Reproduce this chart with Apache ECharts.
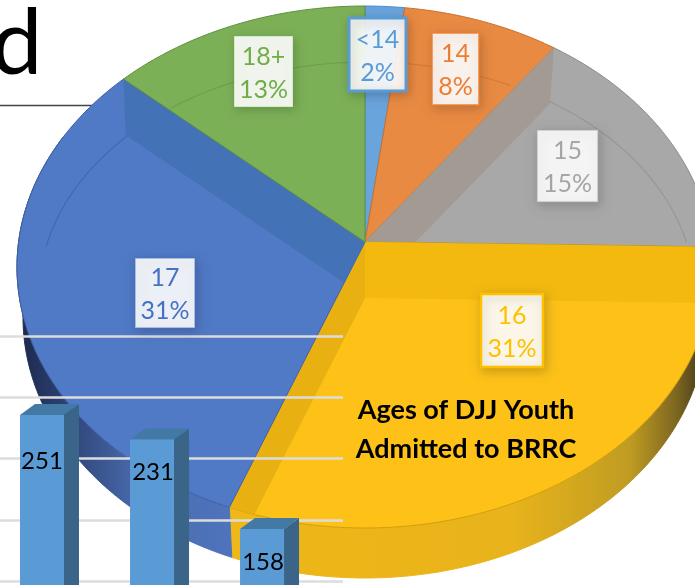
<!DOCTYPE html>
<html>
<head>
<meta charset="utf-8">
<style>html,body{margin:0;padding:0;background:#fff;overflow:hidden}#c{width:695px;height:585px}</style>
<script src="https://cdn.jsdelivr.net/npm/echarts@6/dist/echarts.min.js"></script>
</head>
<body>
<div id="c"></div>
<script>
// ---- data ----
const ageCategories = ['<14', '14', '15', '16', '17', '18+'];
const ageShares = [2, 8, 15.3, 30.5, 30.9, 13.3];
const barCategories = ['Bar 1', 'Bar 2', 'Bar 3'];
const barValues = [251, 231, 158];
const gridTicks = [50, 100, 150, 200, 250, 300];

// ---- styles and layout (not data) ----
const faceColors = ['#69a4dc', '#e98a42', '#a8a8a8', '#fdc118', '#5079c6', '#7cb057'];
const edgeColors = ['#4f8ecb', '#c9702e', '#8c8c8c', '#d29e0c', '#3f62a8', '#5f9040'];
const textColors = ['#5B9BD5', '#ED7D31', '#A5A5A5', '#FFC000', '#4472C4', '#70AD47'];
const borderColors = ['#5B9BD5', 'rgba(237,125,49,.7)', 'rgba(165,165,165,.6)', '#FFC000', 'rgba(68,114,196,.5)', 'rgba(112,173,71,.35)'];
const arcAlpha = [0.06, 0.1, 0.1, 0, 0.14, 0.1];
const labelBoxes = [[349, 18, 57, 73, 3], [432, 33, 47, 72, 2], [537, 130, 61, 72, 1.5],
                    [481, 294, 62, 73, 2.5], [135, 258, 60, 70, 1.5], [234, 36, 59, 71, 1]];
const walls = [
  {slice: 1, edge: 0, d: [-11, 56], color: '#e28339'},
  {slice: 2, edge: 0, d: [-4, 56], color: '#a39a93'},
  {slice: 3, edge: 0, d: [0, 56], color: '#f3b90f'},
  {slice: 3, edge: 1, d: [0, 56], color: '#e9b011'},
  {slice: 4, edge: 1, d: [2, 56], color: '#4472b6'}
];
const CX = 365, CY = 242, A = 258.6, B = 346.4, P = 0.0958;
const BAR_HALF = 22, DX = 15, DY = 11, FRONT_DROP = 19;
const barLabelDrop = [46, 33, 33];

const toRad = d => d * Math.PI / 180;
function rim(t) {
  const u = Math.sin(toRad(t)), v = -Math.cos(toRad(t)), k = 1 - P * v;
  return [CX + B * u / k, CY + A * v / k];
}
const total = ageShares.reduce((a, b) => a + b, 0);
let run = 0;
const spans = ageShares.map(v => { const s = run; run += v; return [s / total * 360, run / total * 360]; });
function slicePoly(i) {
  const pts = [[CX, CY]], s = spans[i][0], e = spans[i][1], n = Math.ceil(e - s);
  for (let k = 0; k <= n; k++) pts.push(rim(s + (e - s) * k / n));
  return pts;
}
function cross(a, b, p) { return (b[0]-a[0])*(p[1]-a[1]) - (b[1]-a[1])*(p[0]-a[0]); }
function signOf(poly) { let s = 0; poly.forEach((p,i)=>{const q=poly[(i+1)%poly.length]; s+=p[0]*q[1]-q[0]*p[1];}); return s>0?1:-1; }
function clip(subject, clipper) {
  const sg = signOf(clipper); let out = subject;
  for (let i = 0; i < clipper.length && out.length; i++) {
    const a = clipper[i], b = clipper[(i + 1) % clipper.length], inp = out; out = [];
    for (let j = 0; j < inp.length; j++) {
      const p = inp[j], q = inp[(j + 1) % inp.length];
      const cp = cross(a,b,p)*sg, cq = cross(a,b,q)*sg;
      if (cp >= 0) out.push(p);
      if ((cp >= 0) !== (cq >= 0)) { const r = cp/(cp-cq); out.push([p[0]+(q[0]-p[0])*r, p[1]+(q[1]-p[1])*r]); }
    }
  }
  return out;
}
function inside(poly, p) { const sg = signOf(poly); return poly.every((a,i)=>cross(a,poly[(i+1)%poly.length],p)*sg >= -0.01); }
const lowerEdge = p => [CX + (p[0]-CX)*342/348, p[1] + 50];

const yellowSide = {type:'linear',global:true,x:232,y:0,x2:700,y2:0,colorStops:[
  {offset:0,color:'#efb717'},{offset:.6,color:'#e8b31b'},{offset:.85,color:'#c09c22'},{offset:.95,color:'#7d6620'},{offset:1,color:'#4d3f1c'}]};
const blueSide = {type:'linear',global:true,x:22,y:0,x2:235,y2:0,colorStops:[
  {offset:0,color:'#1c2a4d'},{offset:.2,color:'#2c4274'},{offset:.55,color:'#4a6bae'},{offset:1,color:'#4f74bd'}]};

function sideItem(params) {
  const i = params.dataIndex;
  const range = i === 3 ? [spans[3][0], spans[3][1]] : i === 4 ? [spans[4][0], 295] : null;
  if (!range) return null;
  const top = [], bottom = [], n = Math.ceil(range[1] - range[0]);
  for (let k = 0; k <= n; k++) {
    const p = rim(range[0] + (range[1] - range[0]) * k / n);
    top.push(p); bottom.unshift(lowerEdge(p));
  }
  const fill = i === 3 ? yellowSide : blueSide;
  return {type:'polygon', shape:{points: top.concat(bottom)}, style:{fill: fill, stroke: fill, lineWidth: 1}};
}
function faceItem(params) {
  const i = params.dataIndex, poly = slicePoly(i), kids = [];
  kids.push({type:'polygon', shape:{points: poly}, style:{fill: faceColors[i], stroke: edgeColors[i], lineWidth: 1}});
  if (arcAlpha[i]) {
    const arc = [];
    for (let th = 192; th <= 360; th += 1) {
      const p = [367 + 328*Math.cos(toRad(th)), 295 + 233*Math.sin(toRad(th))];
      if (inside(poly, p)) arc.push(p);
    }
    if (arc.length > 1) kids.push({type:'polyline', shape:{points: arc}, style:{fill:null, stroke:'rgba(0,0,0,'+arcAlpha[i]+')', lineWidth:1.2}});
  }
  walls.filter(w => w.slice === i).forEach(w => {
    const R = rim(spans[i][w.edge]), c = [CX, CY];
    const q = clip([c, R, [R[0]+w.d[0], R[1]+w.d[1]], [CX+w.d[0], CY+w.d[1]]], poly);
    if (q.length > 2) kids.push({type:'polygon', shape:{points:q}, style:{fill:w.color}});
  });
  return {type:'group', children:kids};
}
function labelItem(params) {
  const i = params.dataIndex, b = labelBoxes[i];
  return {type:'group', children:[
    {type:'rect', shape:{x:b[0],y:b[1],width:b[2],height:b[3]},
     style:{fill:'rgba(255,255,255,.9)',stroke:borderColors[i],lineWidth:b[4],shadowBlur:10,shadowOffsetX:2,shadowOffsetY:3,shadowColor:'rgba(0,0,0,.2)'}},
    {type:'text', x:b[0]+b[2]/2, y:b[1]+b[3]/2+1.5,
     style:{text: ageCategories[i] + '\n' + Math.round(ageShares[i]) + '%', fill:textColors[i], font:'25px Lato', lineHeight:33, align:'center', verticalAlign:'middle'}}
  ]};
}
function barItem(params, api) {
  const i = api.value(0), v = api.value(1), c = api.coord([i, v]), base = api.coord([i, 50]);
  const L = c[0]-BAR_HALF, R = c[0]+BAR_HALF, T = c[1]+FRONT_DROP, Bt = base[1]+FRONT_DROP;
  return {type:'group', children:[
    {type:'polygon', shape:{points:[[R,T],[R+DX,T-DY],[R+DX,Bt],[R,Bt]]}, style:{fill:'#3a6488'}},
    {type:'polygon', shape:{points:[[L,T],[L+DX,T-DY],[R+DX,T-DY],[R,T]]}, style:{fill:'#437aa5'}},
    {type:'rect', shape:{x:L,y:T,width:R-L,height:Bt-T}, style:{fill:'#5b9bd5'}},
    {type:'text', x:c[0]+ (i?1:0), y:T+barLabelDrop[i], style:{text:String(barValues[i]), fill:'#000', font:'24px Lato', align:'center', verticalAlign:'middle'}}
  ]};
}

const chart = echarts.init(document.getElementById('c'));
chart.setOption({
  animation:false,
  backgroundColor:'#fff',
  title:{text:'Ages of DJJ Youth\nAdmitted to BRRC', left:461, top:386, textAlign:'center', z:20,
    textStyle:{fontFamily:'Lato', fontSize:27, fontWeight:'bold', color:'#000', lineHeight:39}},
  graphic:[
    {type:'text', x:-9, y:-2, z:0, style:{text:'d', font:'400 92px Lato', fill:'#000', shadowBlur:4, shadowOffsetX:2, shadowOffsetY:2, shadowColor:'rgba(0,0,0,.35)'}},
    {type:'line', z:0, shape:{x1:0,y1:105.5,x2:110,y2:105.5}, style:{stroke:'#444',lineWidth:1.5}}
  ],
  grid:{left:0, width:343, top:336, height:306.25, containLabel:false, outerBoundsMode:'none'},
  xAxis:{type:'value', min:-0.3818, max:2.736, show:false},
  yAxis:{type:'value', min:gridTicks[0], max:gridTicks[gridTicks.length-1], interval:50, z:3,
    axisLine:{show:false}, axisTick:{show:false}, axisLabel:{show:false},
    splitLine:{show:true, lineStyle:{color:'#dcdcdc', width:2.5}}},
  series:[
    {type:'custom', name:'side', coordinateSystem:'none', z:1, silent:true, data:ageShares, renderItem:sideItem},
    {type:'custom', name:'Ages', coordinateSystem:'none', z:2, silent:true, data:ageShares, renderItem:faceItem},
    {type:'custom', name:'labels', coordinateSystem:'none', z:4, silent:true, data:ageShares, renderItem:labelItem},
    {type:'custom', name:'Bars', coordinateSystem:'cartesian2d', z:10, silent:true, clip:false,
      data:barValues.map((v,i)=>[i,v,barCategories[i]]), encode:{x:0,y:1}, renderItem:barItem}
  ]
});
</script>
</body>
</html>
